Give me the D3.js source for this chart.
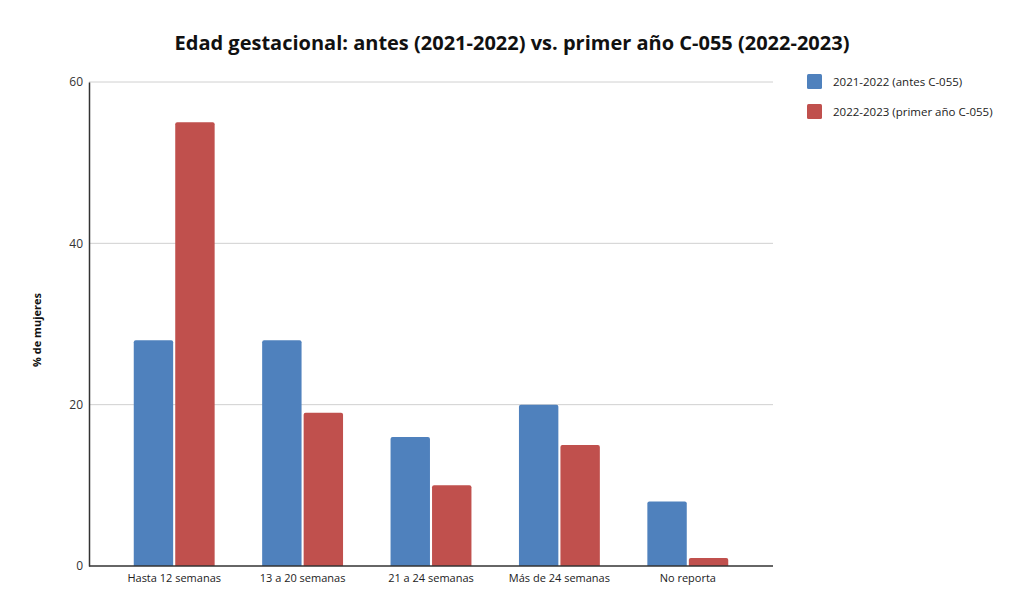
<!DOCTYPE html>
<html>
<head>
<meta charset="utf-8">
<script src="https://cdn.jsdelivr.net/npm/d3@7"></script>
<style>
  body { margin: 0; background: #fff; }
  text { font-family: "Open Sans", "Liberation Sans", sans-serif; }
</style>
</head>
<body>
<div id="chart-area"></div>
<script>
var categories = ["Hasta 12 semanas", "13 a 20 semanas", "21 a 24 semanas", "Más de 24 semanas", "No reporta"];
var seriesNames = ["2021-2022 (antes C-055)", "2022-2023 (primer año C-055)"];
var before = [28, 28, 16, 20, 8];
var firstYear = [55, 19, 10, 15, 1];
var yTicks = [0, 20, 40, 60];
var colors = ["#4f81bd", "#c0504d"];

var svg = d3.select("#chart-area").append("svg")
    .attr("width", 1024)
    .attr("height", 616);

var plotLeft = 89, plotRight = 773, plotTop = 82, plotBottom = 566;

var x = d3.scaleBand()
    .domain(categories)
    .range([110, 752])
    .paddingInner(0.37)
    .paddingOuter(0.185);

var xInner = d3.scaleBand()
    .domain([0, 1])
    .range([0, x.bandwidth()])
    .paddingInner(0.05);

var y = d3.scaleLinear()
    .domain([0, 60])
    .range([plotBottom, plotTop]);

// grid lines
svg.append("g").selectAll("line")
    .data(yTicks.filter((d) => d > 0))
    .enter().append("line")
    .attr("x1", plotLeft)
    .attr("x2", plotRight)
    .attr("y1", (d) => y(d))
    .attr("y2", (d) => y(d))
    .attr("stroke", "#d0d0d0")
    .attr("stroke-width", 1);

// bars
var rows = categories.map((c, i) => ({ cat: c, vals: [before[i], firstYear[i]] }));

var groups = svg.append("g").selectAll("g")
    .data(rows)
    .enter().append("g")
    .attr("transform", (d) => "translate(" + x(d.cat) + ",0)");

groups.selectAll("path")
    .data((d) => d.vals.map((v, k) => ({ v: v, k: k })))
    .enter().append("path")
    .attr("fill", (d) => colors[d.k])
    .attr("d", (d) => {
        var x0 = xInner(d.k), w = xInner.bandwidth();
        var y0 = y(d.v), y1 = y(0), r = 2;
        return "M" + x0 + "," + y1 +
            "V" + (y0 + r) +
            "Q" + x0 + "," + y0 + " " + (x0 + r) + "," + y0 +
            "H" + (x0 + w - r) +
            "Q" + (x0 + w) + "," + y0 + " " + (x0 + w) + "," + (y0 + r) +
            "V" + y1 + "Z";
    });

// axes
var yAxis = svg.append("g")
    .attr("transform", "translate(" + plotLeft + ",0)")
    .call(d3.axisLeft(y).tickValues(yTicks).tickSize(0).tickPadding(6));
yAxis.select(".domain").attr("stroke", "#333").attr("stroke-width", 1.5);
yAxis.selectAll("text").attr("font-size", 12).attr("fill", "#333")
    .attr("font-family", "'Open Sans', sans-serif");

svg.append("line")
    .attr("x1", plotLeft).attr("x2", plotRight)
    .attr("y1", plotBottom).attr("y2", plotBottom)
    .attr("stroke", "#333").attr("stroke-width", 1.5);

var xAxis = svg.append("g")
    .attr("transform", "translate(0," + plotBottom + ")")
    .call(d3.axisBottom(x).tickSize(0).tickPadding(8));
xAxis.select(".domain").remove();
xAxis.selectAll("text").attr("font-size", 11).attr("fill", "#222")
    .attr("font-family", "'Open Sans', sans-serif");

// title
svg.append("text")
    .attr("x", 512)
    .attr("y", 50)
    .attr("text-anchor", "middle")
    .attr("font-size", 20)
    .attr("font-weight", "bold")
    .attr("fill", "#111")
    .text("Edad gestacional: antes (2021-2022) vs. primer año C-055 (2022-2023)");

// y label
svg.append("text")
    .attr("transform", "translate(41,330) rotate(-90)")
    .attr("text-anchor", "middle")
    .attr("font-size", 11)
    .attr("font-weight", "bold")
    .attr("fill", "#111")
    .text("% de mujeres");

// legend
var legend = svg.append("g").selectAll("g")
    .data(seriesNames)
    .enter().append("g")
    .attr("transform", (d, i) => "translate(807," + (74 + i * 30) + ")");

legend.append("rect")
    .attr("width", 15).attr("height", 15).attr("rx", 1.5)
    .attr("fill", (d, i) => colors[i]);

legend.append("text")
    .attr("x", 26).attr("y", 12)
    .attr("font-size", 11.5)
    .attr("fill", "#222")
    .text((d) => d);
</script>
</body>
</html>
